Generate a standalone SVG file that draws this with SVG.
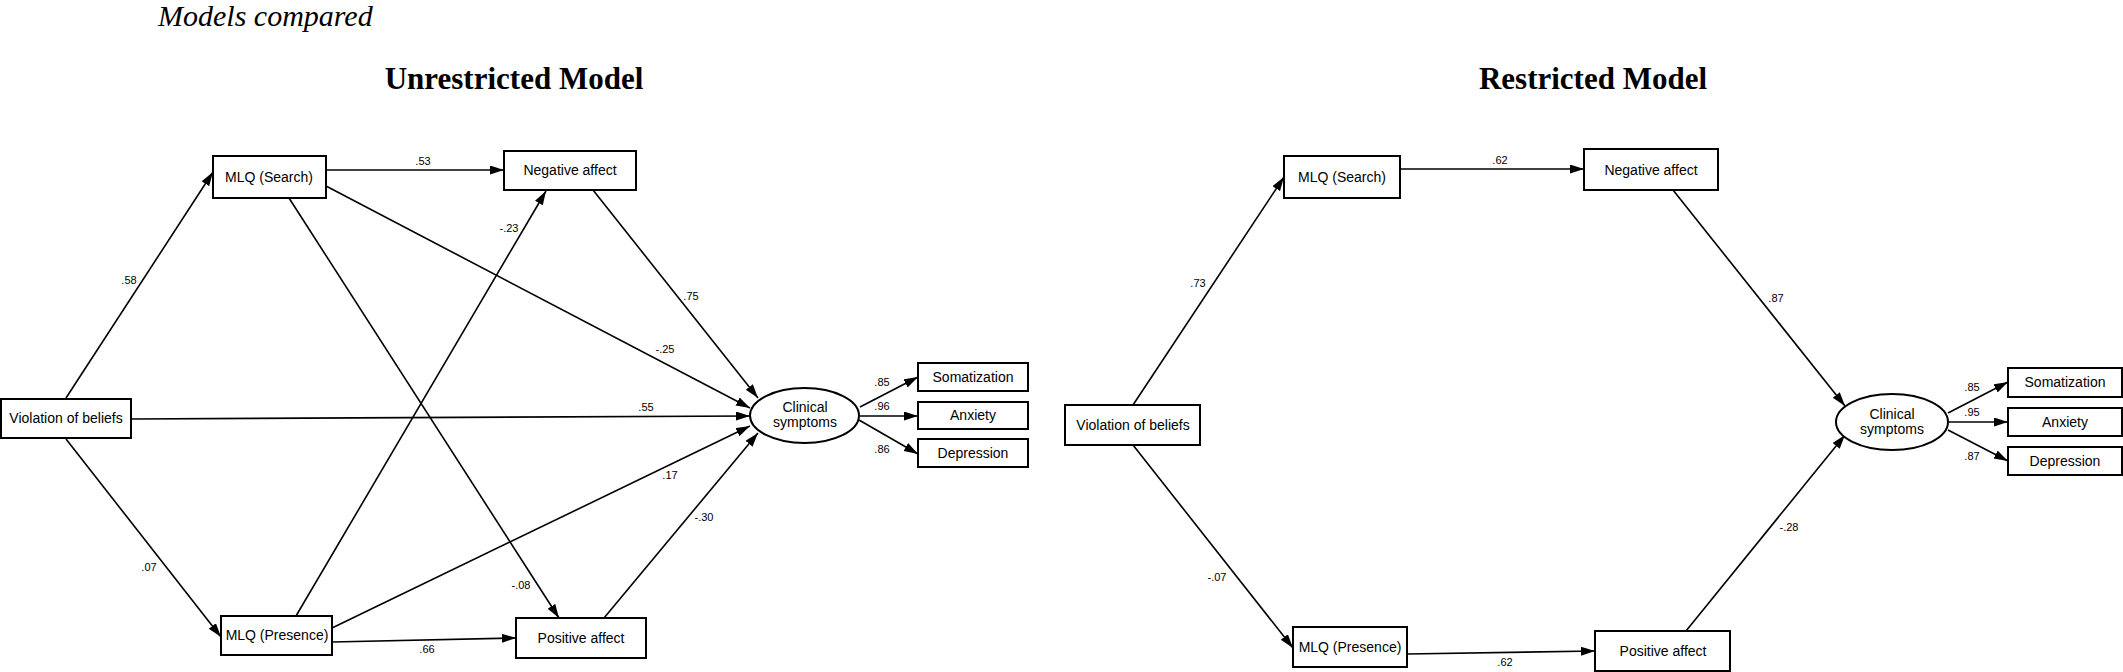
<svg xmlns="http://www.w3.org/2000/svg" width="2123" height="672" viewBox="0 0 2123 672">
<style>
.box{fill:#fff;stroke:#000;stroke-width:2}
.nt{font-family:"Liberation Sans",Arial,sans-serif;font-size:14px;text-anchor:middle;fill:#000}
.lb{font-family:"Liberation Sans",Arial,sans-serif;font-size:11px;text-anchor:middle;fill:#000}
.ed{stroke:#000;stroke-width:1.6;fill:none;marker-end:url(#ah)}
.ttl{font-family:"Liberation Serif","Times New Roman",serif;font-size:31px;font-weight:bold;text-anchor:middle}
</style>
<defs>
<marker id="ah" markerUnits="userSpaceOnUse" markerWidth="15" markerHeight="10" refX="14" refY="4.5" orient="auto">
<path d="M0,0 L14,4.5 L0,9 z" fill="#000"/>
</marker>
</defs>
<rect width="2123" height="672" fill="#fff"/>
<text x="158" y="26" font-family="'Liberation Serif','Times New Roman',serif" font-size="30" font-style="italic">Models compared</text>
<text class="ttl" x="514" y="89">Unrestricted Model</text>
<text class="ttl" x="1593" y="89">Restricted Model</text>

<g id="connectors">
<!-- left model -->
<line class="ed" x1="66" y1="398" x2="213" y2="172"/>
<line class="ed" x1="326" y1="170" x2="504" y2="170"/>
<line class="ed" x1="326" y1="186" x2="750" y2="408"/>
<line class="ed" x1="289" y1="198" x2="559" y2="618"/>
<line class="ed" x1="131" y1="419" x2="750" y2="416"/>
<line class="ed" x1="66" y1="439" x2="221" y2="637"/>
<line class="ed" x1="296" y1="616" x2="546" y2="191"/>
<line class="ed" x1="332" y1="628" x2="750" y2="426"/>
<line class="ed" x1="332" y1="642" x2="516" y2="638"/>
<line class="ed" x1="604" y1="618" x2="758" y2="433"/>
<line class="ed" x1="593" y1="190" x2="758" y2="398"/>
<line class="ed" x1="860" y1="407" x2="918" y2="377"/>
<line class="ed" x1="860" y1="416" x2="918" y2="416"/>
<line class="ed" x1="859" y1="420" x2="918" y2="454"/>
<!-- right model -->
<line class="ed" x1="1133" y1="405" x2="1284" y2="177"/>
<line class="ed" x1="1400" y1="169" x2="1584" y2="169"/>
<line class="ed" x1="1673" y1="190" x2="1845" y2="406"/>
<line class="ed" x1="1948" y1="413" x2="2008" y2="382"/>
<line class="ed" x1="1948" y1="422" x2="2008" y2="422"/>
<line class="ed" x1="1948" y1="430" x2="2008" y2="461"/>
<line class="ed" x1="1686" y1="631" x2="1845" y2="435"/>
<line class="ed" x1="1133" y1="445" x2="1293" y2="648"/>
<line class="ed" x1="1407" y1="654" x2="1595" y2="651"/>
</g>

<g id="edge-labels">
<text class="lb" x="129" y="284">.58</text>
<text class="lb" x="423" y="165">.53</text>
<text class="lb" x="665" y="353">-.25</text>
<text class="lb" x="521" y="589">-.08</text>
<text class="lb" x="646" y="411">.55</text>
<text class="lb" x="149" y="571">.07</text>
<text class="lb" x="509" y="232">-.23</text>
<text class="lb" x="670" y="479">.17</text>
<text class="lb" x="427" y="653">.66</text>
<text class="lb" x="704" y="521">-.30</text>
<text class="lb" x="691" y="300">.75</text>
<text class="lb" x="882" y="386">.85</text>
<text class="lb" x="882" y="410">.96</text>
<text class="lb" x="882" y="453">.86</text>
<text class="lb" x="1198" y="287">.73</text>
<text class="lb" x="1500" y="164">.62</text>
<text class="lb" x="1776" y="302">.87</text>
<text class="lb" x="1972" y="391">.85</text>
<text class="lb" x="1972" y="416">.95</text>
<text class="lb" x="1972" y="460">.87</text>
<text class="lb" x="1789" y="531">-.28</text>
<text class="lb" x="1217" y="581">-.07</text>
<text class="lb" x="1505" y="666">.62</text>
</g>

<!-- left model nodes -->
<g id="L-violation"><rect class="box" x="1" y="399" width="130" height="39"/><text class="nt" x="66" y="423">Violation of beliefs</text></g>
<g id="L-mlq-search"><rect class="box" x="213" y="156" width="113" height="42"/><text class="nt" x="269" y="182">MLQ (Search)</text></g>
<g id="L-negative"><rect class="box" x="504" y="151" width="132" height="39"/><text class="nt" x="570" y="175">Negative affect</text></g>
<g id="L-mlq-presence"><rect class="box" x="221" y="616" width="111" height="39"/><text class="nt" x="277" y="640">MLQ (Presence)</text></g>
<g id="L-positive"><rect class="box" x="516" y="618" width="130" height="40"/><text class="nt" x="581" y="643">Positive affect</text></g>
<g id="L-clinical"><ellipse class="box" cx="804.5" cy="415.5" rx="54.5" ry="27.5"/><text class="nt" x="805" y="412">Clinical</text><text class="nt" x="805" y="427">symptoms</text></g>
<g id="L-somatization"><rect class="box" x="918" y="363" width="110" height="28"/><text class="nt" x="973" y="382">Somatization</text></g>
<g id="L-anxiety"><rect class="box" x="918" y="402" width="110" height="27"/><text class="nt" x="973" y="420">Anxiety</text></g>
<g id="L-depression"><rect class="box" x="918" y="439" width="110" height="28"/><text class="nt" x="973" y="458">Depression</text></g>

<!-- right model nodes -->
<g id="R-violation"><rect class="box" x="1065" y="405" width="135" height="40"/><text class="nt" x="1133" y="430">Violation of beliefs</text></g>
<g id="R-mlq-search"><rect class="box" x="1284" y="156" width="116" height="42"/><text class="nt" x="1342" y="182">MLQ (Search)</text></g>
<g id="R-negative"><rect class="box" x="1584" y="149" width="134" height="41"/><text class="nt" x="1651" y="175">Negative affect</text></g>
<g id="R-mlq-presence"><rect class="box" x="1293" y="627" width="114" height="40"/><text class="nt" x="1350" y="652">MLQ (Presence)</text></g>
<g id="R-positive"><rect class="box" x="1595" y="631" width="135" height="40"/><text class="nt" x="1663" y="656">Positive affect</text></g>
<g id="R-clinical"><ellipse class="box" cx="1892" cy="422" rx="56" ry="28"/><text class="nt" x="1892" y="419">Clinical</text><text class="nt" x="1892" y="434">symptoms</text></g>
<g id="R-somatization"><rect class="box" x="2008" y="368" width="114" height="29"/><text class="nt" x="2065" y="387">Somatization</text></g>
<g id="R-anxiety"><rect class="box" x="2008" y="408" width="114" height="28"/><text class="nt" x="2065" y="427">Anxiety</text></g>
<g id="R-depression"><rect class="box" x="2008" y="447" width="114" height="28"/><text class="nt" x="2065" y="466">Depression</text></g>
</svg>
